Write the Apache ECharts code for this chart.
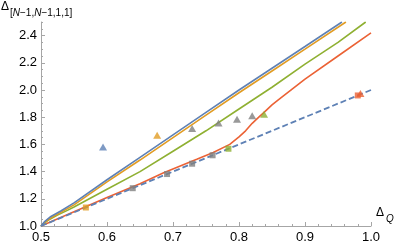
<!DOCTYPE html>
<html><head><meta charset="utf-8">
<script src="https://cdn.jsdelivr.net/npm/echarts@6/dist/echarts.min.js"></script>
<style>html,body{margin:0;padding:0;background:#fff}#c{width:399px;height:245px}</style>
</head><body><div id="c"></div>
<script>
const xTicks = [0.5, 0.6, 0.7, 0.8, 0.9, 1.0];
const yTicks = [1.0, 1.2, 1.4, 1.6, 1.8, 2.0, 2.2, 2.4];
const blueLine = [[0.5,1.0],[0.505,1.03],[0.515,1.07],[0.53,1.11],[0.55,1.17],[0.6,1.34],[0.65,1.505],[0.7,1.67],[0.75,1.835],[0.8,2.0],[0.85,2.16],[0.9,2.32],[0.956,2.5]];
const orangeLine = [[0.5,1.0],[0.505,1.025],[0.515,1.06],[0.53,1.1],[0.55,1.155],[0.6,1.325],[0.65,1.485],[0.7,1.65],[0.75,1.815],[0.8,1.98],[0.85,2.14],[0.9,2.3],[0.962,2.5]];
const greenLine = [[0.5,1.0],[0.51,1.04],[0.525,1.08],[0.54,1.115],[0.55,1.14],[0.6,1.27],[0.65,1.40],[0.7,1.55],[0.75,1.7],[0.8,1.86],[0.85,2.02],[0.9,2.19],[0.95,2.35],[0.992,2.5]];
const redLine = [[0.5,1.0],[0.55,1.105],[0.6,1.21],[0.65,1.31],[0.685,1.39],[0.736,1.49],[0.761,1.54],[0.786,1.6],[0.8,1.655],[0.81,1.70],[0.82,1.755],[0.83,1.80],[0.84,1.845],[0.85,1.89],[0.86,1.93],[0.88,2.005],[0.9,2.08],[0.95,2.25],[1.0,2.42]];
const dashedLine = [[0.5,1.0],[1.0,2.0]];
// markers: [x, y, colour key]
const squares = [[0.568,1.136,'o'],[0.639,1.278,'g'],[0.691,1.382,'g'],[0.729,1.458,'g'],[0.760,1.52,'g'],[0.784,1.568,'gr'],[0.980,1.96,'r']];
const triangles = [[0.594,1.58,'b'],[0.676,1.667,'o'],[0.729,1.716,'g'],[0.769,1.758,'g'],[0.797,1.785,'g'],[0.820,1.81,'g'],[0.838,1.822,'gr'],[0.984,1.975,'r']];

const C = {b:'#5E81B5', o:'#E19C24', gr:'#8FB032', r:'#EB6235', g:'#7F7F7F'};
const font = 'Liberation Sans, Arial, sans-serif';
const chart = echarts.init(document.getElementById('c'));
const axisLineC = '#A6A6A6';
chart.setOption({
  animation:false,
  grid:{left:41, right:28, top:22, bottom:19},
  xAxis:{type:'value', min:0.5, max:1.0, interval:0.1,
    axisLine:{lineStyle:{color:axisLineC, width:1}},
    axisTick:{inside:true, length:4, lineStyle:{color:axisLineC}},
    minorTick:{show:true, splitNumber:5, length:2, lineStyle:{color:axisLineC}},
    splitLine:{show:false},
    axisLabel:{color:'#000', fontSize:13, fontFamily:font, margin:5,
      customValues:xTicks, formatter:v=>v.toFixed(1)}},
  yAxis:[
    {type:'value', min:1.0, max:2.5, interval:0.05, position:'left',
      axisLine:{show:true, lineStyle:{color:axisLineC}},
      axisTick:{inside:true, length:2, lineStyle:{color:axisLineC}},
      axisLabel:{show:false}, splitLine:{show:false}},
    {type:'value', min:1.0, max:2.5, interval:0.2, position:'left', offset:0,
      axisLine:{show:false},
      axisTick:{inside:true, length:4, lineStyle:{color:axisLineC}, customValues:yTicks},
      axisLabel:{color:'#000', fontSize:13, fontFamily:font, margin:4, customValues:yTicks, formatter:v=>v.toFixed(1)},
      splitLine:{show:false}}
  ],
  graphic:[
    {type:'text', left:1, top:1, style:{text:'Δ', font:'12px '+font, fill:'#000'}},
    {type:'text', left:10, top:8, style:{rich:{a:{fontSize:10, fontFamily:font, fill:'#000'}, i:{fontSize:10, fontFamily:font, fontStyle:'italic', fill:'#000'}},
      text:'{a|[}{i|N}{a|−1,}{i|N}{a|−1,1,1]}'}},
    {type:'text', left:376, top:207, style:{text:'Δ', font:'12px '+font, fill:'#000'}},
    {type:'text', left:386, top:214, style:{text:'Q', font:'italic 10px '+font, fill:'#000'}}
  ],
  series:[
    {type:'line', data:redLine, showSymbol:false, lineStyle:{color:C.r, width:1.6}, z:2},
    {type:'line', data:greenLine, showSymbol:false, lineStyle:{color:C.gr, width:1.6}, z:2},
    {type:'line', data:orangeLine, showSymbol:false, lineStyle:{color:C.o, width:1.6}, z:2},
    {type:'line', data:blueLine, showSymbol:false, lineStyle:{color:C.b, width:1.6}, z:2},
    {type:'line', data:dashedLine, showSymbol:false, lineStyle:{color:C.b, width:1.8, type:[6,3]}, z:3},
    {type:'scatter', symbol:'rect', symbolSize:6, z:4,
      data:squares.map(p=>({value:[p[0],p[1]], itemStyle:{color:C[p[2]]}}))},
    {type:'scatter', symbol:'triangle', symbolSize:[8,7], z:4,
      data:triangles.map(p=>({value:[p[0],p[1]], itemStyle:{color:C[p[2]]}}))}
  ]
});
</script></body></html>
